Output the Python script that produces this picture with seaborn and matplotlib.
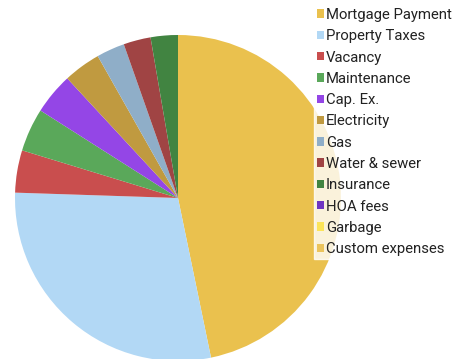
import matplotlib
matplotlib.use("Agg")
import matplotlib.pyplot as plt
import seaborn as sns

sns.set_style("white")
plt.rcParams['font.family'] = ['Roboto', 'DejaVu Sans']

categories = ["Mortgage Payment", "Property Taxes", "Vacancy", "Maintenance", "Cap. Ex.",
              "Electricity", "Gas", "Water & sewer", "Insurance", "HOA fees", "Garbage",
              "Custom expenses"]
values = [46.8, 28.8, 4.2, 4.3, 4.1, 3.7, 2.8, 2.7, 2.7, 0, 0, 0]
colors = ["#EAC14E", "#B2D8F5", "#C94E4E", "#5AA85A", "#9446E6", "#C09A40",
          "#8FAEC8", "#A04444", "#418441", "#6E35C2", "#FBE45A", "#EBC45C"]

W, H = 464, 359
fig = plt.figure(figsize=(W/100, H/100), dpi=100)
cx, cy, r = 178, 198, 163
ax = fig.add_axes([(cx - r)/W, (H - cy - r)/H, 2*r/W, 2*r/H])
wedges, _ = ax.pie(values, colors=colors, startangle=90, counterclock=False,
                   radius=1.0, wedgeprops=dict(linewidth=0))
ax.set_xlim(-1, 1)
ax.set_ylim(-1, 1)
ax.set_aspect('equal')
ax.axis('off')

leg = fig.legend(wedges, categories, loc='upper left',
                 bbox_to_anchor=(314/W, 1 - 5/H), bbox_transform=fig.transFigure,
                 frameon=True, fontsize=10.7, handlelength=0.5, handleheight=0.5,
                 handletextpad=0.1, labelspacing=0.49, borderpad=0.2,
                 borderaxespad=0, fancybox=False)
leg.get_frame().set_facecolor((1, 1, 1, 0.3))
leg.get_frame().set_edgecolor((1, 1, 1, 0.7))
for t in leg.get_texts():
    t.set_color("#222222")

fig.savefig("out.png", dpi=100)
